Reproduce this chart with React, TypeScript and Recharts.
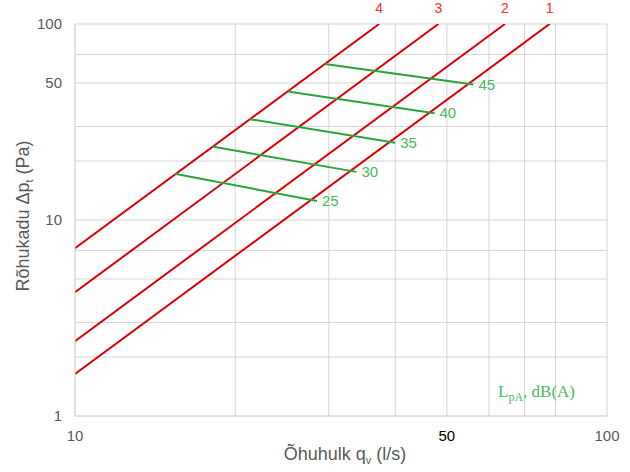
import React from "react";
import {
  LineChart,
  Line,
  XAxis,
  YAxis,
  CartesianGrid,
  Customized,
} from "recharts";

// axis ticks and grid
const xTicks = [10, 50, 100];
const yTicks = [1, 10, 50, 100];
const xGrid = [20, 30, 40, 50, 60, 70, 80, 90, 100];
const yGrid = [2, 3, 4, 5, 6, 7, 8, 9, 10, 20, 30, 40, 50, 60, 70, 80, 90, 100];

// red lines (q l/s, Δp Pa)
const duct1 = [{ q: 10, p: 1.64 }, { q: 78, p: 100 }];
const duct2 = [{ q: 10, p: 2.41 }, { q: 64.3, p: 100 }];
const duct3 = [{ q: 10, p: 4.28 }, { q: 48.2, p: 100 }];
const duct4 = [{ q: 10, p: 7.17 }, { q: 37.3, p: 100 }];
const ductNames = ["1", "2", "3", "4"];

// green sound level lines, dB(A)
const db25 = [{ q: 15.4, p: 17.2 }, { q: 28.5, p: 12.5 }];
const db30 = [{ q: 18.1, p: 23.7 }, { q: 33.8, p: 17.6 }];
const db35 = [{ q: 21.3, p: 32.7 }, { q: 40.0, p: 24.8 }];
const db40 = [{ q: 25.1, p: 45.2 }, { q: 47.4, p: 35.0 }];
const db45 = [{ q: 29.5, p: 62.5 }, { q: 56.1, p: 49.1 }];
const soundLevels = ["25", "30", "35", "40", "45"];

const ducts = [duct1, duct2, duct3, duct4];
const dbLines = [db25, db30, db35, db40, db45];

const FONT = "'Liberation Sans', Arial, sans-serif";
const RED = "#dc0000";
const GREEN = "#2ba33d";
const GREEN_TXT = "#4cb860";
const GRAY_TXT = "#595959";

const XTick = (props: any) => {
  const { x, y, payload } = props;
  return (
    <text
      x={x}
      y={y}
      dy={25}
      textAnchor="middle"
      fontFamily={FONT}
      fontSize={15}
      fill={payload.value === 50 ? "#000" : GRAY_TXT}
    >
      {payload.value}
    </text>
  );
};

const YTick = (props: any) => {
  const { x, y, payload } = props;
  return (
    <text
      x={x - 13}
      y={y}
      dy={5}
      textAnchor="end"
      fontFamily={FONT}
      fontSize={15}
      fill={GRAY_TXT}
    >
      {payload.value}
    </text>
  );
};

const ductLabel = (name: string) => (props: any) => {
  const { x, y, index } = props;
  if (index !== 1) return <g />;
  return (
    <text
      x={x}
      y={y - 11}
      textAnchor="middle"
      fontFamily={FONT}
      fontSize={14}
      fill="#ff2a2a"
    >
      {name}
    </text>
  );
};

const dbLabel = (name: string) => (props: any) => {
  const { x, y, index } = props;
  if (index !== 1) return <g />;
  return (
    <text
      x={x + 5}
      y={y + 5}
      fontFamily={FONT}
      fontSize={15}
      fill={GREEN_TXT}
    >
      {name}
    </text>
  );
};

const Annotations = () => (
  <g>
    <text
      transform="translate(29,216) rotate(-90)"
      textAnchor="middle"
      fontFamily={FONT}
      fontSize={18}
      fill={GRAY_TXT}
    >
      Rõhukadu Δp
      <tspan dy={4} fontSize={11}>t</tspan>
      <tspan dy={-4}> (Pa)</tspan>
    </text>
    <text
      x={345}
      y={460}
      textAnchor="middle"
      fontFamily={FONT}
      fontSize={18}
      fill={GRAY_TXT}
    >
      Õhuhulk q
      <tspan dy={4} fontSize={11}>v</tspan>
      <tspan dy={-4}> (l/s)</tspan>
    </text>
    <text
      x={498}
      y={397}
      fontFamily="'Liberation Serif', 'Times New Roman', serif"
      fontSize={17}
      fill={GREEN_TXT}
    >
      L<tspan dy={4} fontSize={12}>pA</tspan>
      <tspan dy={-4}>, dB(A)</tspan>
    </text>
  </g>
);

export default function App() {
  return (
    <div style={{ width: 630, height: 472 }}>
      <style>{"body{margin:0}"}</style>
      <LineChart
        width={630}
        height={472}
        margin={{ top: 24, right: 23, bottom: 0, left: 0 }}
      >
        <CartesianGrid
          stroke="#d4d4d4"
          horizontalValues={yGrid}
          verticalValues={xGrid}
        />
        <XAxis
          type="number"
          dataKey="q"
          scale="log"
          domain={[10, 100]}
          ticks={xTicks}
          allowDataOverflow
          height={56}
          tickSize={0}
          tickMargin={0}
          tickLine={false}
          axisLine={{ stroke: "#c4c4c4" }}
          tick={<XTick />}
        />
        <YAxis
          type="number"
          dataKey="p"
          scale="log"
          domain={[1, 100]}
          ticks={yTicks}
          allowDataOverflow
          width={75}
          tickSize={0}
          tickMargin={0}
          tickLine={false}
          axisLine={{ stroke: "#c4c4c4" }}
          tick={<YTick />}
        />
        {ducts.map((d, i) => (
          <Line
            key={"d" + i}
            data={d}
            dataKey="p"
            stroke={RED}
            strokeWidth={2}
            dot={false}
            isAnimationActive={false}
            label={ductLabel(ductNames[i])}
          />
        ))}
        {dbLines.map((d, i) => (
          <Line
            key={"g" + i}
            data={d}
            dataKey="p"
            stroke={GREEN}
            strokeWidth={2}
            dot={false}
            isAnimationActive={false}
            label={dbLabel(soundLevels[i])}
          />
        ))}
        <Customized component={Annotations} />
      </LineChart>
    </div>
  );
}
